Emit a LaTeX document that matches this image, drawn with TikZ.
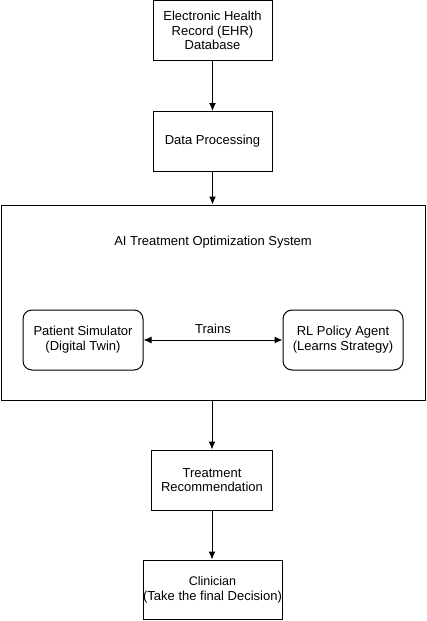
\documentclass[tikz,border=0pt]{standalone}
\usepackage{fontspec}
\setmainfont{Liberation Sans}
\usetikzlibrary{positioning,arrows.meta}

\begin{document}
\begin{tikzpicture}[x=1pt,y=-1pt,node distance=50pt,
	lbl/.style={font=\fontsize{13}{14.8}\selectfont},
	box/.style={lbl,draw,line width=1pt,minimum width=119pt,minimum height=60pt,align=center},
	rbox/.style={box,rounded corners=9pt,minimum width=120pt},
	flow/.style={-{Latex[length=8pt,width=7pt]},line width=1pt}] 
	\useasboundingbox (0,0) rectangle (426,621);
	\node[box] (ehr) at (212.5,30.5) {Electronic Health\\Record (EHR)\\Database}; 
	\node[box] (proc) [below=of ehr] {Data Processing}; 
	\node[box,minimum width=424pt,minimum height=195pt] (sys) at (213,302.5) {}; 
	\node[lbl] (title) at (213,242) {AI Treatment Optimization System}; 
	\node[rbox] (sim) at (83,340) {Patient Simulator\\(Digital Twin)}; 
	\node[rbox] (agent) at (343,340) {RL Policy Agent\\(Learns Strategy)}; 
	\node[box,minimum width=121pt] (rec) at (212,480) {Treatment\\Recommendation}; 
	\node[box,inner xsep=0pt,minimum width=139pt,minimum height=59pt] (clin) at (212.5,589.5) {\fontsize{12.5}{14.8}\selectfont Clinician\\(Take the final Decision)}; 
	\draw[flow] (ehr) -- (proc); 
	\draw[flow] (proc) -- (sys.north -| proc); 
	\draw[flow] (sys.south -| rec) -- (rec); 
	\draw[flow] (rec) -- (clin.north -| rec); 
	\draw[{Latex[length=8pt,width=7pt]}-{Latex[length=8pt,width=7pt]},line width=1pt] (sim) -- node[lbl,above=3pt] {Trains} (agent); 
\end{tikzpicture}
\end{document}
